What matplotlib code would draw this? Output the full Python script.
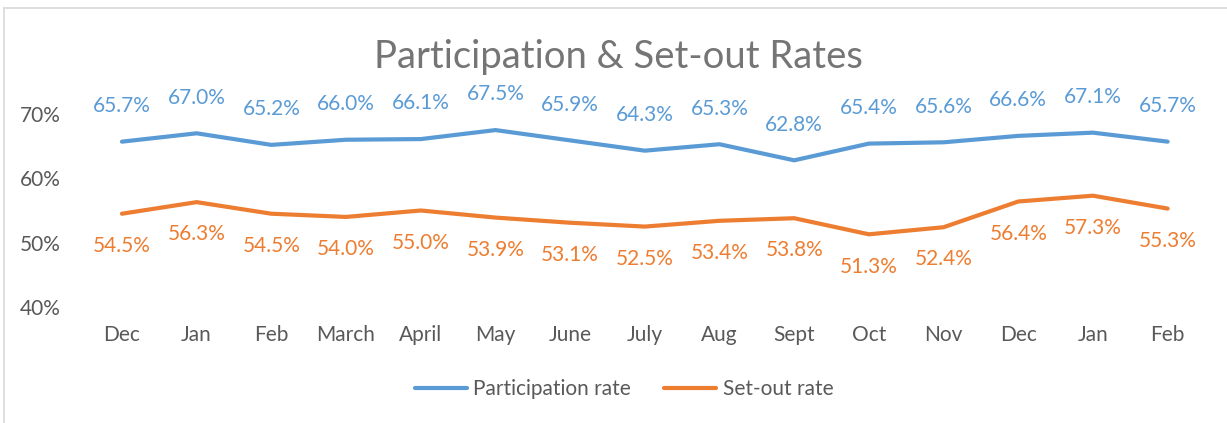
import matplotlib
matplotlib.use("Agg")
import matplotlib.pyplot as plt
from matplotlib.lines import Line2D

months = ["Dec", "Jan", "Feb", "March", "April", "May", "June", "July",
          "Aug", "Sept", "Oct", "Nov", "Dec", "Jan", "Feb"]
participation = [65.7, 67.0, 65.2, 66.0, 66.1, 67.5, 65.9, 64.3,
                 65.3, 62.8, 65.4, 65.6, 66.6, 67.1, 65.7]
setout = [54.5, 56.3, 54.5, 54.0, 55.0, 53.9, 53.1, 52.5,
          53.4, 53.8, 51.3, 52.4, 56.4, 57.3, 55.3]
yticks = [40, 50, 60, 70]

BLUE = "#5B9BD5"
ORANGE = "#ED7D31"
TEXT = "#595959"
FONT = "Lato"

plt.rcParams["font.family"] = [FONT, "DejaVu Sans"]

W, H = 1227, 423
fig = plt.figure(figsize=(W / 100, H / 100), dpi=100)
left, right = 84.6 / W, 1205 / W
bottom, top = 1 - 307 / H, 1 - 114 / H
ax = fig.add_axes([left, bottom, right - left, top - bottom])

x = list(range(len(months)))
ax.plot(x, participation, color=BLUE, lw=3, solid_capstyle="round",
        solid_joinstyle="round")
ax.plot(x, setout, color=ORANGE, lw=3, solid_capstyle="round",
        solid_joinstyle="round")

for xi, v in zip(x, participation):
    ax.annotate(f"{v:.1f}%", (xi, v), xytext=(0, 18.5), textcoords="offset points",
                ha="center", va="bottom", color=BLUE, fontsize=15)
for xi, v in zip(x, setout):
    ax.annotate(f"{v:.1f}%", (xi, v), xytext=(0, -16), textcoords="offset points",
                ha="center", va="top", color=ORANGE, fontsize=15)

ax.set_xlim(-0.5, len(months) - 0.5)
ax.set_ylim(40, 70)
ax.set_yticks(yticks)
ax.set_yticklabels([f"{t}%" for t in yticks])
ax.set_xticks(x)
ax.set_xticklabels(months)
ax.tick_params(axis="both", length=0, labelsize=15, labelcolor=TEXT)
ax.tick_params(axis="y", pad=17)
ax.tick_params(axis="x", pad=13)
for s in ax.spines.values():
    s.set_visible(False)
ax.patch.set_alpha(0)

fig.text(618 / W, 1 - 57 / H, "Participation & Set-out Rates", ha="center",
         va="center", fontsize=27.5, color="#757575")

handles = [Line2D([], [], color=BLUE, lw=3, solid_capstyle="round"),
           Line2D([], [], color=ORANGE, lw=3, solid_capstyle="round")]
fig.legend(handles, ["Participation rate", "Set-out rate"], loc="center",
           bbox_to_anchor=(624 / W, 1 - 389 / H), ncol=2, frameon=False,
           fontsize=15, labelcolor=TEXT, handlelength=2.5, handletextpad=0.3,
           columnspacing=1.6)

# chart border
fig.add_artist(Line2D([4 / W, 4 / W], [0, 1 - 8 / H], color="#D9D9D9", lw=1.2))
fig.add_artist(Line2D([4 / W, 1], [1 - 8 / H, 1 - 8 / H], color="#D9D9D9", lw=1.2))

fig.savefig("out.png", dpi=100)
